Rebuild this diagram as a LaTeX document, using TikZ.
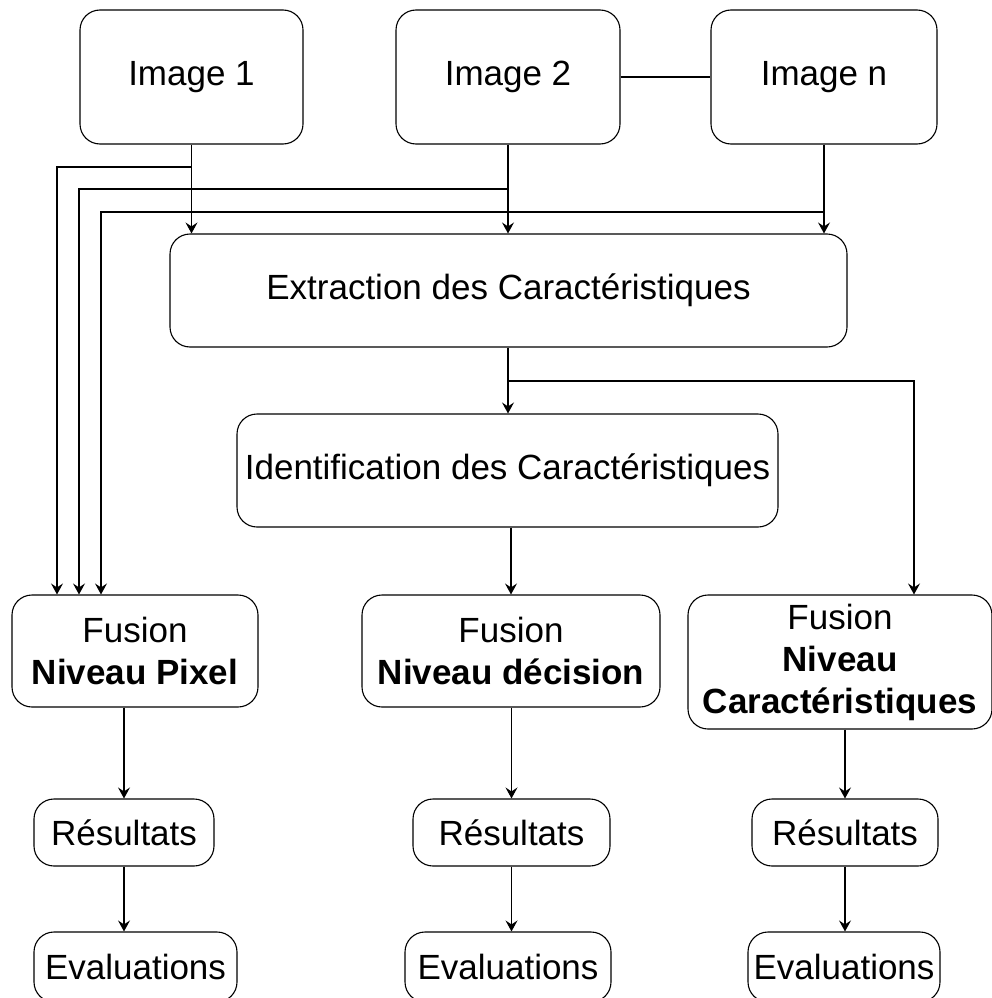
\documentclass[tikz,border=0pt]{standalone}
\usepackage{fontspec}
\setmainfont{Liberation Sans}
\usetikzlibrary{arrows.meta}
\newcommand{\boxfont}{\fontsize{35}{42}\selectfont}
\begin{document}
\begin{tikzpicture}[x=1pt,y=-1pt,
  box/.style={draw, rounded corners=20pt, inner sep=0pt, align=center,
    font=\boxfont, line width=1.1pt},
  wire/.style={line width=1.1pt},
  arr/.style={wire, -{Stealth[length=11pt,width=12pt,inset=4pt]}}]
\useasboundingbox (0,0) rectangle (992,998);

% source images
\node[box, minimum width=223pt, minimum height=134pt] (img1) at (191.5,77) {Image 1};
\node[box, minimum width=224pt, minimum height=134pt] (img2) at (508,77) {Image 2};
\node[box, minimum width=226pt, minimum height=134pt] (imgn) at (824,77) {Image n};

% processing chain
\node[box, minimum width=677pt, minimum height=113pt] (extr) at (508.5,290.5) {Extraction des Caractéristiques};
\node[box, minimum width=541pt, minimum height=113pt] (ident) at (507.5,470.5) {Identification des Caractéristiques};

% fusion levels
\node[box, minimum width=246pt, minimum height=112pt] (fpix) at (135,651) {Fusion\\\textbf{Niveau Pixel}};
\node[box, minimum width=298pt, minimum height=112pt] (fdec) at (511,651) {Fusion\\\textbf{Niveau décision}};
\node[box, minimum width=304pt, minimum height=134pt] (fcar) at (840,662) {Fusion\\\textbf{Niveau}\\\textbf{Caractéristiques}};

% results and evaluations
\node[box, minimum width=180pt, minimum height=67pt] (res1) at (124,832.5) {Résultats};
\node[box, minimum width=197pt, minimum height=67pt] (res2) at (511.5,832.5) {Résultats};
\node[box, minimum width=186pt, minimum height=67pt] (res3) at (845,832.5) {Résultats};
\node[box, minimum width=203pt, minimum height=70pt] (ev1) at (135.5,967) {Evaluations};
\node[box, minimum width=206pt, minimum height=70pt] (ev2) at (508,967) {Evaluations};
\node[box, minimum width=192pt, minimum height=70pt] (ev3) at (844,967) {Evaluations};

% bends of the routed connectors
\coordinate (p1) at (57,167);
\coordinate (p2) at (79,189);
\coordinate (p3) at (101,212);
\coordinate (q1) at (914,381);
\coordinate (q0) at (508,381);

% images to extraction
\draw[wire] (img2.east) -- (imgn.west);
\draw[arr] (img1.south) -- (img1.south |- extr.north);
\draw[arr] (img2.south) -- (img2.south |- extr.north);
\draw[arr] (imgn.south) -- (imgn.south |- extr.north);

% images straight to pixel-level fusion
\draw[arr] (p1 -| img1.south) -- (p1) -- (p1 |- fpix.north);
\draw[arr] (p2 -| img2.south) -- (p2) -- (p2 |- fpix.north);
\draw[arr] (p3 -| imgn.south) -- (p3) -- (p3 |- fpix.north);

% extraction onwards
\draw[arr] (q0 |- extr.south) -- (q0 |- ident.north);
\draw[arr] (q0) -- (q1) -- (q1 |- fcar.north);
\draw[arr] (fdec.north |- ident.south) -- (fdec.north);

% fusion to results to evaluations
\draw[arr] (res1.north |- fpix.south) -- (res1.north);
\draw[arr] (res2.north |- fdec.south) -- (res2.north);
\draw[arr] (res3.north |- fcar.south) -- (res3.north);
\draw[arr] (res1.south) -- (res1.south |- ev1.north);
\draw[arr] (res2.south) -- (res2.south |- ev2.north);
\draw[arr] (res3.south) -- (res3.south |- ev3.north);
\end{tikzpicture}
\end{document}
